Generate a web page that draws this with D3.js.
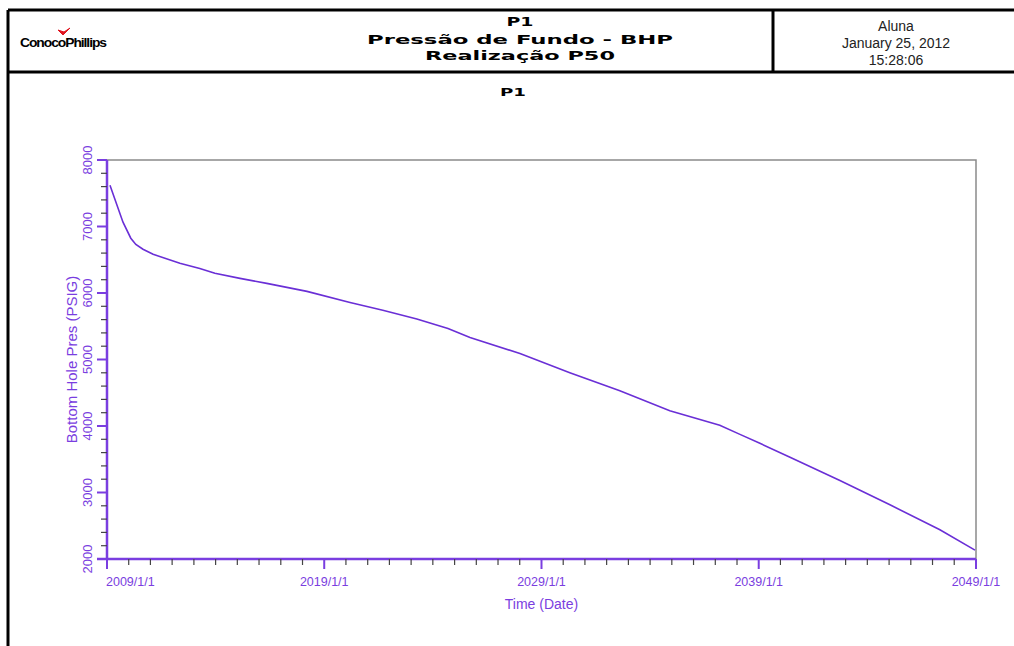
<!DOCTYPE html>
<html>
<head>
<meta charset="utf-8">
<script src="https://cdn.jsdelivr.net/npm/d3@7"></script>
<style>
  body { margin: 0; background: #fff; }
  text { font-family: "Liberation Sans", Arial, sans-serif; }
</style>
</head>
<body>
<div id="chart"></div>
<script>
var width = 1014;
var height = 646;

// series
var dates = ["2009-02-20","2009-09-27","2010-02-05","2010-05-01","2010-08-29","2011-02-15","2012-05-10",
  "2013-04-10","2013-12-20","2015-02-15","2016-05-10","2018-03-17","2020-03-10","2021-09-12",
  "2023-04-07","2024-09-12","2025-09-17","2028-01-05","2030-04-22","2032-08-10","2034-11-28",
  "2037-03-17","2038-03-01","2039-01-20","2040-06-10","2042-09-27","2045-01-15","2047-05-05","2048-12-15"];
var bhp = [7620,7065,6824,6730,6658,6582,6447,6370,6296,6220,6145,6024,5858,5740,5610,5466,5330,
  5090,4802,4531,4230,4010,3870,3740,3530,3180,2815,2440,2133];

var yTicks = [2000,3000,4000,5000,6000,7000,8000];
var xTickYears = [2009,2019,2029,2039,2049];
var titleLines = ["P1","Pressão de Fundo - BHP","Realização P50"];
var infoLines = ["Aluna","January 25, 2012","15:28:06"];

var purple = "#7a3ee0";
var lineColor = "#6a2fd6";

var svg = d3.select("#chart")
  .append("svg")
  .attr("width", width)
  .attr("height", height)

// frame and header
svg.append("line").attr("x1", 8).attr("x2", 8).attr("y1", 10).attr("y2", height)
  .attr("stroke", "#000").attr("stroke-width", 3)
svg.append("line").attr("x1", 8).attr("x2", 1014).attr("y1", 10).attr("y2", 10)
  .attr("stroke", "#000").attr("stroke-width", 3)
svg.append("line").attr("x1", 8).attr("x2", 1014).attr("y1", 72).attr("y2", 72)
  .attr("stroke", "#000").attr("stroke-width", 3)
svg.append("line").attr("x1", 773).attr("x2", 773).attr("y1", 10).attr("y2", 72)
  .attr("stroke", "#000").attr("stroke-width", 3)

// logo
svg.append("text")
  .attr("x", 20).attr("y", 47)
  .attr("textLength", 86).attr("lengthAdjust", "spacingAndGlyphs")
  .style("font-size", "13px").style("font-weight", "bold").style("letter-spacing", "-1px")
  .text("ConocoPhillips")
svg.append("path")
  .attr("d", "M58,30 L63,35 L70,28 L64,32 Z")
  .attr("fill", "#e0141e").attr("stroke", "#e0141e").attr("stroke-width", 1)

// header title, widths matched to the picture
svg.append("g").selectAll("text")
  .data(titleLines)
  .join("text")
    .attr("x", 520)
    .attr("y", (d, i) => [26, 44, 60][i])
    .attr("text-anchor", "middle")
    .attr("textLength", (d, i) => [27, 306, 190][i])
    .attr("lengthAdjust", "spacingAndGlyphs")
    .style("font-family", "'DejaVu Sans', sans-serif")
    .style("font-weight", "bold")
    .style("font-size", "13px")
    .text(d => d)

svg.append("g").selectAll("text")
  .data(infoLines)
  .join("text")
    .attr("x", 896)
    .attr("y", (d, i) => 31 + i * 17)
    .attr("text-anchor", "middle")
    .style("font-size", "14px")
    .style("fill", "#222")
    .text(d => d)

svg.append("text")
  .attr("x", 513).attr("y", 96)
  .attr("text-anchor", "middle")
  .attr("textLength", 26).attr("lengthAdjust", "spacingAndGlyphs")
  .style("font-family", "'DejaVu Sans', sans-serif")
  .style("font-weight", "bold").style("font-size", "10px")
  .text("P1")

// plot area
var margin = {left: 107, right: 976, top: 160, bottom: 559};
var parse = d3.timeParse("%Y-%m-%d");
var data = dates.map((d, i) => ({date: parse(d), v: bhp[i]}));

var x = d3.scaleTime()
  .domain([new Date(2009, 0, 1), new Date(2049, 0, 1)])
  .range([margin.left, margin.right]);
var y = d3.scaleLinear()
  .domain([2000, 8000])
  .range([margin.bottom, margin.top]);

// gray top/right border
svg.append("path")
  .attr("d", "M" + margin.left + "," + margin.top + "H" + margin.right + "V" + margin.bottom)
  .attr("fill", "none").attr("stroke", "#8a8a8a").attr("stroke-width", 1.5)

// x axis
var xAxis = svg.append("g").attr("transform", "translate(0," + margin.bottom + ")");
xAxis.append("line").attr("x1", 97).attr("x2", margin.right).attr("stroke", purple).attr("stroke-width", 2.5)
xAxis.selectAll("line.minor")
  .data(d3.range(2009, 2050))
  .join("line")
    .attr("class", "minor")
    .attr("x1", d => x(new Date(d, 0, 1))).attr("x2", d => x(new Date(d, 0, 1)))
    .attr("y1", 0).attr("y2", d => d % 10 === 9 ? 10 : 6)
    .attr("stroke", d => d % 10 === 9 ? purple : "#444").attr("stroke-width", d => d % 10 === 9 ? 2 : 1.2)
xAxis.selectAll("text")
  .data(xTickYears)
  .join("text")
    .attr("x", d => x(new Date(d, 0, 1)) + (d === 2009 ? -1 : 0))
    .attr("y", 27)
    .attr("text-anchor", d => d === 2009 ? "start" : "middle")
    .style("font-size", "12.5px").style("fill", purple)
    .text(d => d + "/1/1")

// y axis
var yAxis = svg.append("g").attr("transform", "translate(" + margin.left + ",0)");
yAxis.append("line").attr("y1", margin.top).attr("y2", margin.bottom).attr("stroke", purple).attr("stroke-width", 2.5)
yAxis.selectAll("line.minor")
  .data(d3.range(2000, 8001, 200))
  .join("line")
    .attr("class", "minor")
    .attr("y1", d => y(d)).attr("y2", d => y(d))
    .attr("x1", d => d % 1000 === 0 ? -10 : -6).attr("x2", 0)
    .attr("stroke", d => d % 1000 === 0 ? purple : "#444").attr("stroke-width", d => d % 1000 === 0 ? 2 : 1.2)
yAxis.selectAll("text")
  .data(yTicks)
  .join("text")
    .attr("transform", d => "translate(-15," + y(d) + ") rotate(-90)")
    .attr("text-anchor", "middle")
    .style("font-size", "13px").style("fill", purple)
    .text(d => d)

// axis titles
svg.append("text")
  .attr("transform", "translate(77," + ((margin.top + margin.bottom) / 2) + ") rotate(-90)")
  .attr("text-anchor", "middle")
  .style("font-size", "15px").style("fill", purple)
  .text("Bottom Hole Pres (PSIG)")
svg.append("text")
  .attr("x", (margin.left + margin.right) / 2).attr("y", 609)
  .attr("text-anchor", "middle")
  .style("font-size", "14px").style("fill", purple)
  .text("Time (Date)")

// the curve
svg.append("path")
  .datum(data)
  .attr("fill", "none")
  .attr("stroke", lineColor)
  .attr("stroke-width", 1.6)
  .attr("d", d3.line().x(d => x(d.date)).y(d => y(d.v)))
</script>
</body>
</html>
